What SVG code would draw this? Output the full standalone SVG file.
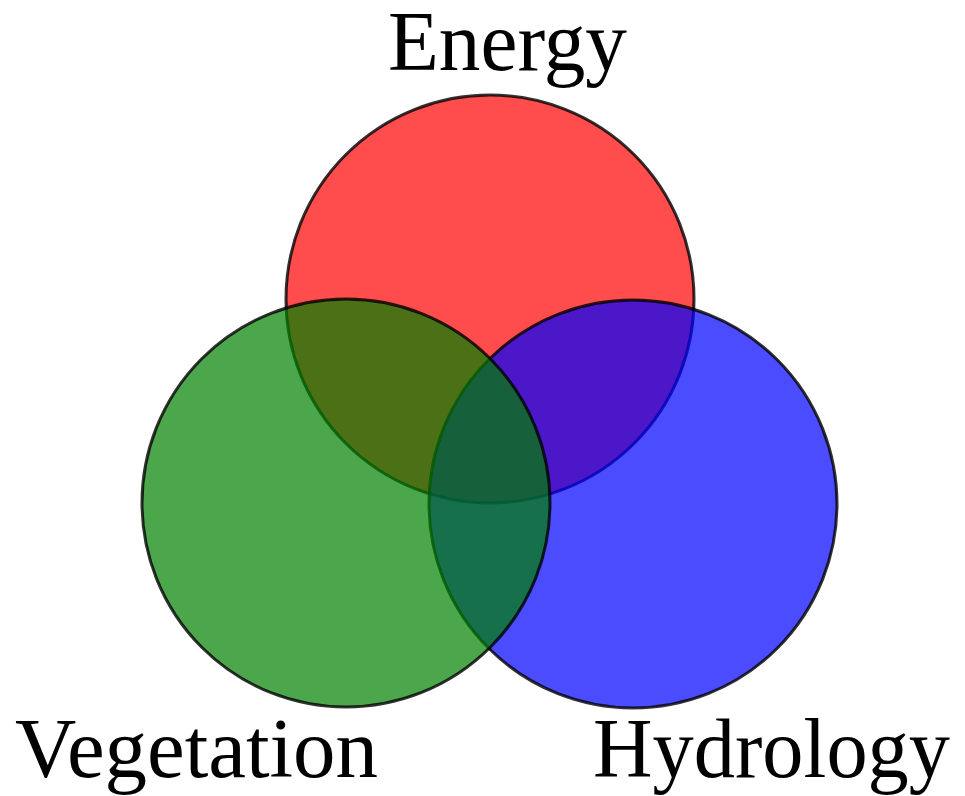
<svg xmlns="http://www.w3.org/2000/svg" width="965" height="796" viewBox="0 0 965 796">
<style>
.c{stroke:#000;stroke-width:3;fill-opacity:0.7;stroke-opacity:0.8}
.t{font-family:"Liberation Serif","Times New Roman",serif;font-size:84px;fill:#000}
</style>
<rect width="965" height="796" fill="#fff"/>
<g id="energy"><circle class="c" cx="490" cy="299" r="204" fill="#ff0000"/></g>
<g id="hydrology"><circle class="c" cx="633" cy="504" r="204" fill="#0000ff"/></g>
<g id="vegetation"><circle class="c" cx="346" cy="503" r="204" fill="#008000"/></g>
<g id="labels">
<text class="t" x="388" y="70" textLength="239" lengthAdjust="spacingAndGlyphs">Energy</text>
<text class="t" x="15" y="777" textLength="363" lengthAdjust="spacingAndGlyphs">Vegetation</text>
<text class="t" x="593" y="777" textLength="357" lengthAdjust="spacingAndGlyphs">Hydrology</text>
</g>
</svg>
